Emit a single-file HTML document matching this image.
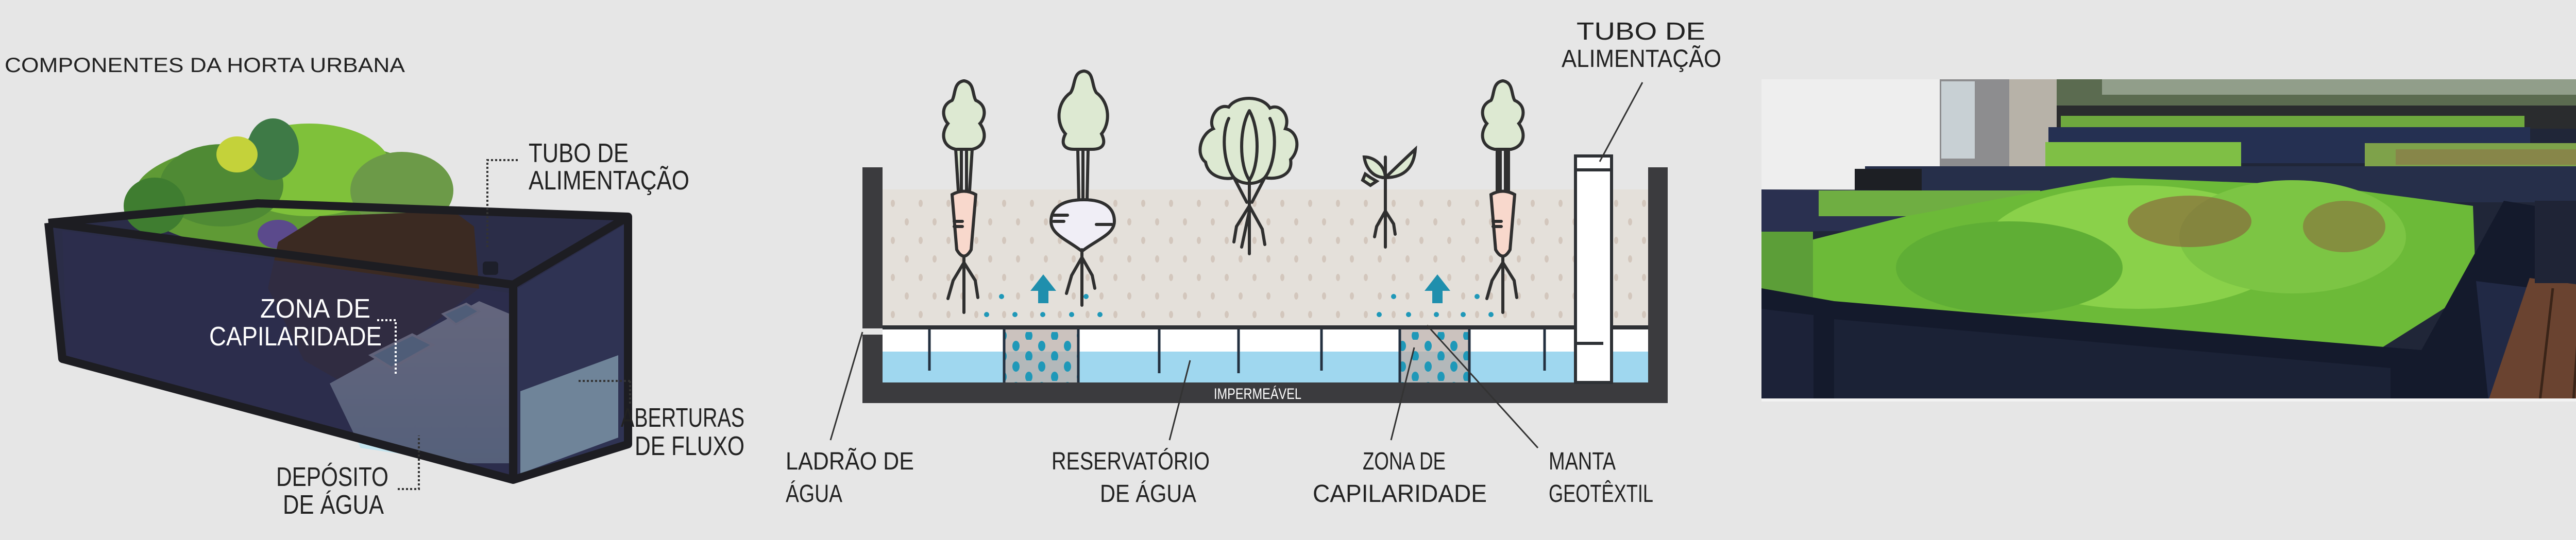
<!DOCTYPE html>
<html><head><meta charset="utf-8"><style>
html,body{margin:0;padding:0;background:#e6e6e6;}
svg{display:block;}
text{font-family:"Liberation Sans",sans-serif;}
</style></head><body>
<svg width="5057" height="1049" viewBox="0 0 5057 1049" xmlns="http://www.w3.org/2000/svg">
<defs>
<pattern id="soil" x="1713" y="377" width="108" height="72" patternUnits="userSpaceOnUse">
<ellipse cx="20" cy="18" rx="4" ry="7" fill="#d3c7bd"/>
<ellipse cx="74" cy="18" rx="4" ry="7" fill="#d3c7bd"/>
<ellipse cx="47" cy="54" rx="4" ry="7" fill="#d3c7bd"/>
<ellipse cx="101" cy="54" rx="4" ry="7" fill="#d3c7bd"/>
</pattern>
<pattern id="bdots" x="1960" y="660" width="50" height="40" patternUnits="userSpaceOnUse">
<ellipse cx="12" cy="12" rx="7" ry="10" fill="#1f98b8"/>
<ellipse cx="37" cy="32" rx="7" ry="10" fill="#1f98b8"/>
</pattern>
<linearGradient id="wg" x1="0" y1="0" x2="0" y2="1"><stop offset="0" stop-color="#f4f6f7"/><stop offset="1" stop-color="#bfe3ee"/></linearGradient>
</defs>
<rect width="5057" height="1049" fill="#e6e6e6"/>

<!-- ================= LEFT PHOTO ================= -->
<text x="9" y="140" font-size="40" fill="#222" textLength="777" lengthAdjust="spacingAndGlyphs">COMPONENTES DA HORTA URBANA</text>
<!-- back panel -->
<polygon points="94,433 500,395 1219,421 1219,863 996,932 121,697" fill="#2b2d48"/>
<!-- greenery -->
<g>
<ellipse cx="560" cy="380" rx="300" ry="110" fill="#5f9a35"/>
<ellipse cx="600" cy="330" rx="160" ry="90" fill="#7fc13a"/>
<ellipse cx="430" cy="360" rx="120" ry="80" fill="#4f8a34"/>
<ellipse cx="780" cy="370" rx="100" ry="75" fill="#6c9a48"/>
<ellipse cx="530" cy="290" rx="50" ry="60" fill="#3e7a46"/>
<ellipse cx="460" cy="300" rx="40" ry="35" fill="#c4d23a"/>
<ellipse cx="300" cy="400" rx="60" ry="55" fill="#3f7d30"/>
<ellipse cx="540" cy="455" rx="40" ry="28" fill="#5b4a8c"/>
<ellipse cx="610" cy="470" rx="30" ry="25" fill="#3d4878"/>
</g>
<!-- soil -->
<polygon points="620,420 880,410 920,440 930,560 800,660 660,740 590,700 520,560 540,470" fill="#3b2a22"/>
<!-- reservoir white -->
<polygon points="640,745 930,585 990,610 990,900 900,900 700,870" fill="url(#wg)"/>
<polygon points="720,690 800,650 840,670 760,715" fill="#a9d8e5" stroke="#eee" stroke-width="5"/>
<polygon points="860,610 905,590 930,605 885,630" fill="#a9d8e5" stroke="#eee" stroke-width="4"/>
<!-- front panel -->
<polygon points="121,448 996,570 996,932 130,697" fill="#2c2e4d" opacity="0.72"/>
<polygon points="1005,560 1219,432 1219,863 1005,932" fill="#313456" opacity="0.8"/>
<polygon points="1010,760 1200,690 1200,850 1010,920" fill="#bfe6f0" opacity="0.45"/>
<!-- frame -->
<g stroke="#1d1d22" stroke-width="16" fill="none" stroke-linejoin="round">
<polyline points="94,433 996,553 996,932 121,697 94,433"/>
<polyline points="996,553 1219,421 1219,863 996,932"/>
<polyline points="94,433 500,395 1219,421"/>
</g>
<rect x="937" y="508" width="30" height="26" rx="6" fill="#1d1f2a"/>
<!-- left labels -->
<g fill="#222" font-size="52">
<text x="1026" y="315" textLength="194" lengthAdjust="spacingAndGlyphs">TUBO DE</text>
<text x="1026" y="368" textLength="312" lengthAdjust="spacingAndGlyphs">ALIMENTAÇÃO</text>
<text x="1205" y="829" textLength="240" lengthAdjust="spacingAndGlyphs">ABERTURAS</text>
<text x="1232" y="884" textLength="213" lengthAdjust="spacingAndGlyphs">DE FLUXO</text>
<text x="536" y="944" textLength="218" lengthAdjust="spacingAndGlyphs">DEPÓSITO</text>
<text x="549" y="998" textLength="196" lengthAdjust="spacingAndGlyphs">DE ÁGUA</text>
</g>
<g fill="#fff" font-size="52">
<text x="505" y="617" textLength="214" lengthAdjust="spacingAndGlyphs">ZONA DE</text>
<text x="406" y="671" textLength="335" lengthAdjust="spacingAndGlyphs">CAPILARIDADE</text>
</g>
<g stroke="#333" stroke-width="4" stroke-dasharray="4,4" fill="none">
<polyline points="1005,311 946,311 946,482"/>
<polyline points="1223,740 1121,740" />
<polyline points="1223,740 1223,786"/>
<polyline points="772,950 813,950 813,846"/>
</g>
<polyline points="732,622 768,622 768,726" stroke="#fff" stroke-width="4" stroke-dasharray="4,4" fill="none"/>

<!-- ================= MIDDLE DIAGRAM ================= -->
<!-- soil -->
<rect x="1713" y="368" width="1486" height="267" fill="#e4e0da"/>
<rect x="1713" y="377" width="1486" height="255" fill="url(#soil)"/>
<!-- reservoir -->
<rect x="1713" y="640" width="1486" height="103" fill="#ffffff"/>
<rect x="1713" y="683" width="1486" height="60" fill="#9fd7ef"/>
<rect x="1949" y="632" width="144" height="111" fill="#b9aea8" opacity="0.75"/>
<rect x="2717" y="632" width="135" height="111" fill="#b9aea8" opacity="0.75"/>
<rect x="1949" y="645" width="144" height="98" fill="url(#bdots)"/>
<rect x="2717" y="645" width="135" height="98" fill="url(#bdots)"/>
<g stroke="#233040" stroke-width="5">
<line x1="1804" y1="640" x2="1804" y2="720"/>
<line x1="1949" y1="640" x2="1949" y2="743"/>
<line x1="2093" y1="640" x2="2093" y2="743"/>
<line x1="2250" y1="640" x2="2250" y2="725"/>
<line x1="2404" y1="640" x2="2404" y2="725"/>
<line x1="2565" y1="640" x2="2565" y2="720"/>
<line x1="2717" y1="640" x2="2717" y2="743"/>
<line x1="2852" y1="640" x2="2852" y2="743"/>
<line x1="2998" y1="640" x2="2998" y2="720"/>
</g>
<rect x="1713" y="632" width="1486" height="8" fill="#2e3135"/>
<!-- walls -->
<g fill="#3b3b3e">
<rect x="1674" y="325" width="39" height="313"/>
<rect x="1674" y="650" width="39" height="133"/>
<rect x="3199" y="325" width="38" height="458"/>
<rect x="1674" y="743" width="1563" height="40"/>
</g>
<text x="2356" y="775" font-size="30" fill="#fff" textLength="170" lengthAdjust="spacingAndGlyphs">IMPERMEÁVEL</text>
<!-- tube -->
<rect x="3058" y="303" width="70" height="440" fill="#fff" stroke="#2e3135" stroke-width="6"/>
<line x1="3058" y1="330" x2="3128" y2="330" stroke="#2e3135" stroke-width="6"/>
<line x1="3058" y1="667" x2="3112" y2="667" stroke="#2e3135" stroke-width="6"/>
<!-- blue dots -->
<g fill="#1f98b8">
<circle cx="1944" cy="576" r="5"/><circle cx="2108" cy="576" r="5"/>
<circle cx="1915" cy="611" r="5"/><circle cx="1970" cy="611" r="5"/><circle cx="2024" cy="611" r="5"/><circle cx="2080" cy="611" r="5"/><circle cx="2135" cy="611" r="5"/>
<circle cx="2705" cy="576" r="5"/><circle cx="2867" cy="576" r="5"/>
<circle cx="2677" cy="611" r="5"/><circle cx="2734" cy="611" r="5"/><circle cx="2788" cy="611" r="5"/><circle cx="2840" cy="611" r="5"/><circle cx="2894" cy="611" r="5"/>
</g>
<!-- arrows -->
<g fill="#1f8fad">
<polygon points="2025,533 2050,565 2035,565 2035,589 2015,589 2015,565 2000,565"/>
<polygon points="2790,533 2815,565 2800,565 2800,589 2780,589 2780,565 2765,565"/>
</g>
<!-- plants -->
<g stroke="#2f2f2f" stroke-width="6" fill="none" stroke-linecap="round">
<!-- carrot 1 -->
<path d="M1871,157 C1850,160 1855,185 1848,195 C1825,205 1830,230 1840,240 C1825,260 1830,285 1855,290 L1860,370 M1871,157 C1892,160 1887,185 1894,195 C1917,205 1912,230 1902,240 C1917,260 1912,285 1887,290 L1882,370 M1866,290 L1866,370 M1876,290 L1876,370" fill="#dde9d2"/>
<path d="M1871,157 C1850,160 1855,185 1848,195 C1825,205 1830,230 1840,240 C1825,260 1830,285 1855,290 L1887,290 C1912,285 1917,260 1902,240 C1912,230 1917,205 1894,195 C1887,185 1892,160 1871,157Z" fill="#dde9d2"/>
<path d="M1848,378 Q1871,365 1894,378 L1885,485 Q1871,510 1857,485 Z" fill="#f8d8cc"/>
<path d="M1871,500 L1871,607 M1871,510 L1850,545 L1840,580 M1871,510 L1893,545 L1898,578 M1852,430 L1868,430 M1852,440 L1868,440"/>
<!-- radish -->
<path d="M2104,138 C2082,140 2088,165 2078,180 C2050,200 2050,240 2068,260 C2058,280 2066,290 2085,290 L2120,290 C2140,290 2148,280 2138,260 C2155,240 2155,200 2128,180 C2118,165 2124,140 2104,138Z" fill="#dde9d2"/>
<path d="M2092,290 L2094,390 M2102,290 L2102,390 M2112,290 L2110,390"/>
<path d="M2104,388 C2060,388 2040,405 2040,430 C2040,455 2070,465 2100,488 C2130,465 2163,455 2163,430 C2163,405 2145,388 2104,388Z" fill="#f0eef6"/>
<path d="M2045,418 L2072,418 M2045,430 L2065,430 M2128,436 L2158,436 M2100,485 L2100,593 M2100,500 L2080,535 L2070,570 M2100,500 L2120,535 L2125,560"/>
<!-- lettuce -->
<path d="M2385,208 C2360,200 2345,235 2355,250 C2330,260 2320,300 2340,315 C2345,345 2380,350 2395,345 C2410,360 2440,360 2455,345 C2480,350 2510,340 2505,310 C2525,290 2520,255 2495,250 C2505,225 2485,200 2465,210 C2450,185 2400,185 2385,208Z" fill="#dde9d2"/>
<path d="M2385,230 C2370,260 2375,320 2395,345 M2465,230 C2480,260 2475,320 2455,345 M2425,215 C2405,250 2405,320 2425,350 C2445,320 2445,250 2425,215"/>
<path d="M2425,350 L2425,393 M2395,345 L2420,393 M2455,345 L2430,393 M2425,393 L2425,493 M2425,400 L2400,440 L2395,470 M2425,400 L2450,445 L2455,475 M2425,410 L2410,480"/>
<!-- seedling -->
<path d="M2689,305 L2689,480 M2689,410 L2672,440 L2668,460 M2689,410 L2705,435 L2708,455"/>
<path d="M2689,345 C2660,345 2650,320 2648,305 C2670,305 2689,325 2689,345Z" fill="#dde9d2"/>
<path d="M2689,345 C2705,330 2720,315 2747,290 C2745,320 2730,345 2689,345Z" fill="#dde9d2"/>
<path d="M2660,345 L2650,338 L2645,350 L2660,360 L2672,352Z" fill="#dde9d2"/>
<!-- carrot 2 -->
<path d="M2917,157 C2896,160 2901,185 2894,195 C2871,205 2876,230 2886,240 C2871,260 2876,285 2901,290 L2933,290 C2958,285 2963,260 2948,240 C2958,230 2963,205 2940,195 C2933,185 2938,160 2917,157Z" fill="#dde9d2"/>
<path d="M2906,290 L2906,370 M2912,290 L2912,370 M2922,290 L2922,370 M2928,290 L2928,370"/>
<path d="M2894,378 Q2917,365 2940,378 L2931,485 Q2917,510 2903,485 Z" fill="#f8d8cc"/>
<path d="M2917,500 L2917,607 M2917,510 L2896,545 L2886,580 M2917,510 L2939,545 L2944,578 M2898,430 L2914,430 M2898,440 L2914,440"/>
</g>
<!-- leader lines -->
<g stroke="#333" stroke-width="3">
<line x1="3188" y1="160" x2="3105" y2="314"/>
<line x1="1674" y1="645" x2="1612" y2="855"/>
<line x1="2310" y1="700" x2="2270" y2="855"/>
<line x1="2745" y1="675" x2="2700" y2="855"/>
<line x1="2770" y1="632" x2="2985" y2="870"/>
</g>
<g fill="#222" font-size="48">
<text x="3060" y="77" textLength="250" lengthAdjust="spacingAndGlyphs">TUBO DE</text>
<text x="3031" y="130" textLength="310" lengthAdjust="spacingAndGlyphs">ALIMENTAÇÃO</text>
<text x="1525" y="912" textLength="249" lengthAdjust="spacingAndGlyphs">LADRÃO DE</text>
<text x="1525" y="975" textLength="110" lengthAdjust="spacingAndGlyphs">ÁGUA</text>
<text x="2041" y="912" textLength="307" lengthAdjust="spacingAndGlyphs">RESERVATÓRIO</text>
<text x="2135" y="975" textLength="187" lengthAdjust="spacingAndGlyphs">DE ÁGUA</text>
<text x="2645" y="912" textLength="161" lengthAdjust="spacingAndGlyphs">ZONA DE</text>
<text x="2548" y="975" textLength="338" lengthAdjust="spacingAndGlyphs">CAPILARIDADE</text>
<text x="3006" y="912" textLength="130" lengthAdjust="spacingAndGlyphs">MANTA</text>
<text x="3006" y="975" textLength="203" lengthAdjust="spacingAndGlyphs">GEOTÊXTIL</text>
</g>

<!-- ================= RIGHT PHOTO ================= -->
<g>
<rect x="3419" y="154" width="1638" height="624" fill="#202638"/>
<rect x="3419" y="154" width="346" height="214" fill="#eeeeee"/>
<rect x="3765" y="154" width="227" height="170" fill="#8d8d8f"/>
<rect x="3768" y="158" width="65" height="150" fill="#c8d0d4"/>
<rect x="3900" y="154" width="92" height="170" fill="#b7b2a8"/>
<rect x="3992" y="154" width="1065" height="60" fill="#5b6b50"/>
<rect x="4080" y="154" width="977" height="30" fill="#b5c0b0" opacity="0.6"/>
<rect x="3992" y="205" width="1065" height="45" fill="#2a2c2e"/>
<rect x="4000" y="225" width="900" height="25" fill="#6ea83e"/>
<rect x="3976" y="247" width="935" height="70" fill="#253052"/>
<rect x="3970" y="276" width="380" height="52" fill="#7fbf45"/>
<rect x="4590" y="278" width="467" height="55" fill="#7ea24a"/>
<rect x="4650" y="290" width="400" height="30" fill="#8f6a48" opacity="0.5"/>
<rect x="3620" y="323" width="1437" height="70" fill="#262f4a"/>
<rect x="3419" y="368" width="260" height="70" fill="#8a8a88"/>
<rect x="3600" y="328" width="130" height="50" fill="#1d1f24"/>
<polygon points="3419,368 3700,370 4100,395 4100,445 3419,450" fill="#2a3050"/>
<rect x="3530" y="370" width="430" height="50" fill="#6fae42"/>
<polygon points="3500,470 3700,420 4100,345 4500,360 4800,400 4806,560 4600,690 3800,640 3500,600" fill="#6cba38"/>
<ellipse cx="4150" cy="480" rx="300" ry="120" fill="#8ad14a"/>
<ellipse cx="4450" cy="460" rx="220" ry="110" fill="#7cc544"/>
<ellipse cx="3900" cy="520" rx="220" ry="90" fill="#5fae35"/>
<ellipse cx="4250" cy="430" rx="120" ry="50" fill="#8b5a3a" opacity="0.6"/>
<ellipse cx="4550" cy="440" rx="80" ry="50" fill="#8b5a3a" opacity="0.5"/>
<rect x="3419" y="450" width="100" height="160" fill="#5c9e38"/>
<polygon points="3419,560 3560,585 4700,680 4860,390 4920,400 4920,778 3419,778" fill="#141a2c"/>
<polygon points="3419,600 3520,612 3520,778 3419,778" fill="#1c2238"/>
<polygon points="3560,620 4640,715 4640,778 3560,778" fill="#1b2236"/>
<polygon points="4806,546 4920,560 4920,778 4830,778" fill="#212945"/>
<polygon points="4910,540 5057,560 5057,778 4830,778" fill="#6a4330"/>
<line x1="4955" y1="560" x2="4930" y2="778" stroke="#3a2418" stroke-width="5"/>
<line x1="5010" y1="565" x2="4995" y2="778" stroke="#3a2418" stroke-width="5"/>
<rect x="4920" y="390" width="137" height="160" fill="#1f2436"/>
<rect x="3419" y="774" width="1638" height="6" fill="#f2f2f2"/>
</g>
</svg>
</body></html>
